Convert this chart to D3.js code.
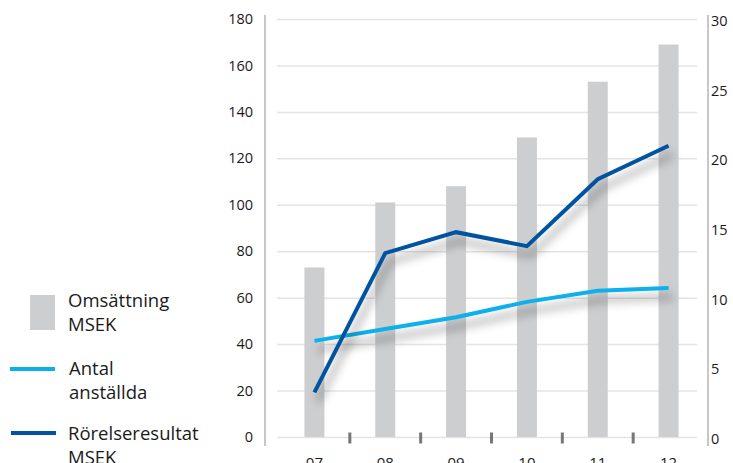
<!DOCTYPE html>
<html>
<head>
<meta charset="utf-8">
<script src="https://cdn.jsdelivr.net/npm/d3@7"></script>
<style>
body { margin: 0; background: #fff; }
text { font-family: "Open Sans", sans-serif; fill: #1a1a1a; }
</style>
</head>
<body>
<script>
var years = ["07", "08", "09", "10", "11", "12"];
var omsattning = [73, 101, 108, 129, 153, 169];
var antal = [6.9, 7.75, 8.6, 9.7, 10.5, 10.7];
var rorelse = [3.2, 13.2, 14.7, 13.7, 18.5, 20.9];
var leftTicks = [0, 20, 40, 60, 80, 100, 120, 140, 160, 180];
var rightTicks = [0, 5, 10, 15, 20, 25, 30];

var w = 733, h = 463;
var barColor = "#cdced0", lightBlue = "#0bb0ea", darkBlue = "#00539f";

var svg = d3.select("body").append("svg").attr("width", w).attr("height", h);

var defs = svg.append("defs");
var f = defs.append("filter").attr("id", "shadow")
    .attr("x", "-20%").attr("y", "-30%").attr("width", "150%").attr("height", "180%");
f.append("feDropShadow").attr("dx", 4).attr("dy", 9).attr("stdDeviation", 5)
    .attr("flood-color", "#000").attr("flood-opacity", 0.4);

var xScale = d3.scaleBand().domain(years).range([279, 704]);
var yLeft = d3.scaleLinear().domain([0, 180]).range([437, 19]);
var yRight = d3.scaleLinear().domain([0, 30]).range([437, 19]);

// gridlines
svg.append("g").attr("transform", "translate(277,0)")
    .call(d3.axisRight(yLeft).tickValues(leftTicks).tickSize(420).tickFormat(""))
    .call(function(g) {
        g.select(".domain").remove();
        g.selectAll("line").attr("stroke", "#e4e4e4").attr("stroke-width", 1.5);
    });

// axis lines
svg.append("line").attr("x1", 265).attr("x2", 265).attr("y1", 15).attr("y2", 446)
    .attr("stroke", "#b4b4b4").attr("stroke-width", 1.5);
svg.append("line").attr("x1", 708).attr("x2", 708).attr("y1", 15).attr("y2", 446)
    .attr("stroke", "#b4b4b4").attr("stroke-width", 1.5);

// left axis labels
svg.append("g").attr("transform", "translate(265,0)")
    .call(d3.axisLeft(yLeft).tickValues(leftTicks).tickSize(0).tickPadding(12))
    .call(function(g) {
        g.select(".domain").remove();
        g.selectAll("text").attr("font-size", "14.5px").attr("dy", "0.32em")
            .attr("font-family", "'Open Sans', sans-serif").attr("fill", "#111");
    });

// right axis labels
svg.append("g").attr("transform", "translate(708,0)")
    .call(d3.axisRight(yRight).tickValues(rightTicks).tickSize(0).tickPadding(3))
    .call(function(g) {
        g.select(".domain").remove();
        g.selectAll("text").attr("font-size", "14.5px").attr("dy", "0.45em")
            .attr("font-family", "'Open Sans', sans-serif").attr("fill", "#111");
    });

// bars
var barW = 20;
svg.selectAll("rect.bar").data(omsattning).enter().append("rect")
    .attr("class", "bar")
    .attr("x", function(d, i) { return xScale(years[i]) + xScale.bandwidth() / 2 - barW / 2; })
    .attr("y", function(d) { return yLeft(d); })
    .attr("width", barW)
    .attr("height", function(d) { return yLeft(0) - yLeft(d); })
    .attr("fill", barColor);

// small category divider marks
svg.selectAll("rect.sep").data(years.slice(1)).enter().append("rect")
    .attr("class", "sep")
    .attr("x", function(d) { return xScale(d) - 1.5; })
    .attr("y", 432.5)
    .attr("width", 3)
    .attr("height", 11)
    .attr("fill", "#777");

// x axis labels
svg.append("g").attr("transform", "translate(0,437)")
    .call(d3.axisBottom(xScale).tickSize(0).tickPadding(20))
    .call(function(g) {
        g.select(".domain").remove();
        g.selectAll("text").attr("font-size", "15px")
            .attr("font-family", "'Open Sans', sans-serif").attr("fill", "#111");
    });

// lines
var line = d3.line()
    .x(function(d, i) { return xScale(years[i]) + xScale.bandwidth() / 2; })
    .y(function(d) { return yRight(d); });

svg.append("path").datum(antal).attr("d", line)
    .attr("fill", "none").attr("stroke", lightBlue).attr("stroke-width", 4)
    .attr("filter", "url(#shadow)");
svg.append("path").datum(rorelse).attr("d", line)
    .attr("fill", "none").attr("stroke", darkBlue).attr("stroke-width", 4)
    .attr("filter", "url(#shadow)");

// legend
var lg = svg.append("g").attr("font-size", "18.5px");
lg.append("rect").attr("x", 30).attr("y", 295).attr("width", 25).attr("height", 35).attr("fill", barColor);
lg.append("text").attr("x", 68).attr("y", 307).text("Omsättning");
lg.append("text").attr("x", 68).attr("y", 331).text("MSEK");

lg.append("line").attr("x1", 10).attr("x2", 55).attr("y1", 369).attr("y2", 369)
    .attr("stroke", lightBlue).attr("stroke-width", 4);
lg.append("text").attr("x", 69).attr("y", 375).text("Antal");
lg.append("text").attr("x", 69).attr("y", 399).text("anställda");

lg.append("line").attr("x1", 11).attr("x2", 56).attr("y1", 433).attr("y2", 433)
    .attr("stroke", darkBlue).attr("stroke-width", 4);
lg.append("text").attr("x", 68).attr("y", 440).text("Rörelseresultat");
lg.append("text").attr("x", 68).attr("y", 464).text("MSEK");
</script>
</body>
</html>
